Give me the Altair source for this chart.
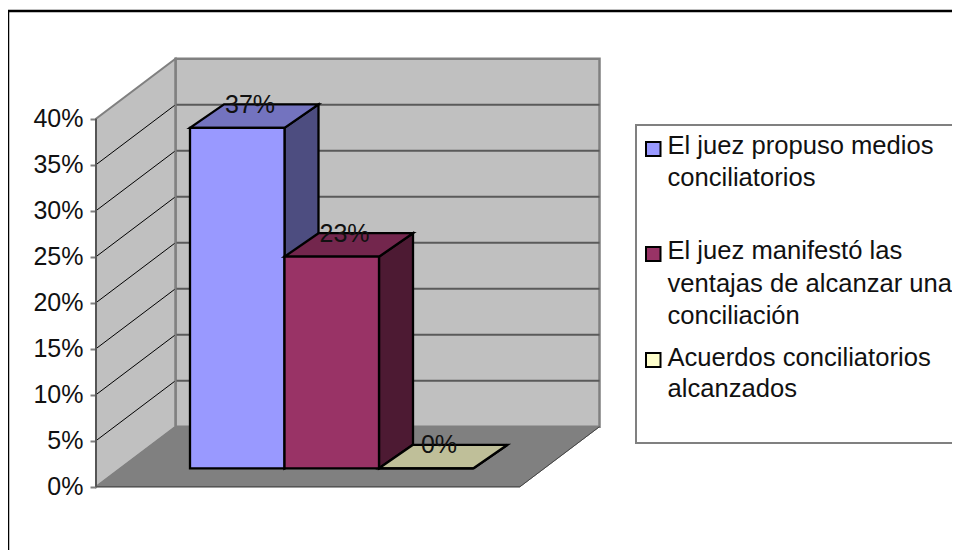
import altair as alt
import pandas as pd

# ---- chart values ----
categories = ["El juez propuso medios conciliatorios",
              "El juez manifestó las ventajas de alcanzar una conciliación",
              "Acuerdos conciliatorios alcanzados"]
values = [0.37, 0.23, 0.0]
tick_values = [0, 0.05, 0.10, 0.15, 0.20, 0.25, 0.30, 0.35, 0.40]
legend_lines = [["El juez propuso medios", "conciliatorios"],
                ["El juez manifestó las", "ventajas de alcanzar una", "conciliación"],
                ["Acuerdos conciliatorios", "alcanzados"]]

# ---- styles ----
front_colors = ["#9999FF", "#993366", "#FFFFCC"]
top_colors = ["#7373BF", "#73264D", "#BFBF99"]
side_colors = ["#4D4D80", "#4D1A33", "#808066"]
FONT = "Liberation Sans"
TXT = "#111111"

# ---- layout (x in page pixels, y in value units of the scale) ----
OX, OY = 12, 8
W, H = 940, 542
PX_PER_UNIT = 920.0
ZERO_PAGE = 486.7
WALL_L, WALL_R = 96.0, 520.0
DEPTH_X, DEPTH_Y = 79.5, 60.0 / PX_PER_UNIT
BAR_X0, BAR_W = 190.0, 94.5
BAR_BASE = 18.4 / PX_PER_UNIT
BAR_DX, BAR_DY = 34.0, 23.5 / PX_PER_UNIT
TOP = max(tick_values)

xs = alt.Scale(domain=[OX, OX + W], range=[0, W], nice=False, zero=False)
ys = alt.Scale(domain=[(ZERO_PAGE - (OY + H)) / PX_PER_UNIT, (ZERO_PAGE - OY) / PX_PER_UNIT],
               range=[H, 0], nice=False, zero=False)
X = lambda f="x": alt.X(f"{f}:Q", scale=xs, axis=None)
Y = lambda f="y": alt.Y(f"{f}:Q", scale=ys, title=None)
X2 = lambda: alt.X2("x2:Q")
Y2 = lambda: alt.Y2("y2:Q")


def vx(page):
    return alt.value(page - OX)


def vy(page):
    return alt.value(page - OY)


layers = []

# y axis
axis_df = pd.DataFrame({"y": tick_values})
layers.append(alt.Chart(axis_df).mark_point(opacity=0)
              .encode(y=alt.Y("y:Q", scale=ys,
                              axis=alt.Axis(values=tick_values, format=".0%", title=None, grid=False,
                                            domain=False, offset=-(WALL_L - OX), tickSize=6,
                                            tickColor="#808080", tickWidth=2, labelPadding=7,
                                            labelFont=FONT, labelFontSize=25, labelColor=TXT))))

# back wall
back = pd.DataFrame({"x": [WALL_L + DEPTH_X], "x2": [WALL_R + DEPTH_X],
                     "y": [DEPTH_Y], "y2": [TOP + DEPTH_Y]})
layers.append(alt.Chart(back).mark_rect(fill="#C0C0C0", stroke="#808080", strokeWidth=2.5)
              .encode(x=X(), x2=X2(), y=Y(), y2=Y2()))

# side wall
side_wall = pd.DataFrame({"x": [WALL_L, WALL_L + DEPTH_X], "y": [0, DEPTH_Y],
                          "y2": [TOP, TOP + DEPTH_Y]})
layers.append(alt.Chart(side_wall).mark_area(fill="#C0C0C0", stroke="#808080", strokeWidth=2)
              .encode(x=X(), y=Y(), y2=Y2()))

# floor
floor = pd.DataFrame({"y": [0, DEPTH_Y], "x": [WALL_L, WALL_L + DEPTH_X],
                      "x2": [WALL_R, WALL_R + DEPTH_X]})
layers.append(alt.Chart(floor).mark_area(orient="horizontal", fill="#808080", stroke="#808080",
                                         strokeWidth=1)
              .encode(y=Y(), x=X(), x2=X2()))

# gridlines on the back wall and on the side wall
grid_back = pd.DataFrame({"x": [WALL_L + DEPTH_X] * 7, "x2": [WALL_R + DEPTH_X] * 7,
                          "y": [t + DEPTH_Y for t in tick_values[1:-1]]})
layers.append(alt.Chart(grid_back)
              .mark_rule(color="#5A5A5A", strokeWidth=2)
              .encode(x=X(), x2=X2(), y=Y()))
diag_rows = []
for t in tick_values[1:-1]:
    diag_rows.append({"x": WALL_L, "y": t, "g": t})
    diag_rows.append({"x": WALL_L + DEPTH_X, "y": t + DEPTH_Y, "g": t})
layers.append(alt.Chart(pd.DataFrame(diag_rows)).mark_line(color="#000000", strokeWidth=1)
              .encode(x=X(), y=Y(), detail="g:N"))

# wall / floor edges
layers.append(alt.Chart(pd.DataFrame({"x": [WALL_L + DEPTH_X], "y": [DEPTH_Y], "y2": [TOP + DEPTH_Y]}))
              .mark_rule(color="#808080", strokeWidth=2).encode(x=X(), y=Y(), y2=Y2()))
layers.append(alt.Chart(pd.DataFrame({"x": [WALL_L], "y": [0], "y2": [TOP]}))
              .mark_rule(color="#555555", strokeWidth=2).encode(x=X(), y=Y(), y2=Y2()))
layers.append(alt.Chart(pd.DataFrame({"x": [WALL_L], "x2": [WALL_R], "y": [0]}))
              .mark_rule(color="#555555", strokeWidth=1.5).encode(x=X(), x2=X2(), y=Y()))
layers.append(alt.Chart(pd.DataFrame({"x": [WALL_R], "x2": [WALL_R + DEPTH_X],
                                      "y": [0], "y2": [DEPTH_Y]}))
              .mark_rule(color="#444444", strokeWidth=1).encode(x=X(), x2=X2(), y=Y(), y2=Y2()))

# 3-D bars
for i, v in enumerate(values):
    l, r = BAR_X0 + i * BAR_W, BAR_X0 + (i + 1) * BAR_W
    b, t = BAR_BASE, BAR_BASE + v
    side = pd.DataFrame({"x": [r, r + BAR_DX], "y": [b, b + BAR_DY], "y2": [t, t + BAR_DY]})
    layers.append(alt.Chart(side).mark_area(fill=side_colors[i], stroke="#000000", strokeWidth=2.3)
                  .encode(x=X(), y=Y(), y2=Y2()))
    top = pd.DataFrame({"y": [t, t + BAR_DY], "x": [l, l + BAR_DX], "x2": [r, r + BAR_DX]})
    layers.append(alt.Chart(top).mark_area(orient="horizontal", fill=top_colors[i],
                                           stroke="#000000", strokeWidth=2.3)
                  .encode(y=Y(), x=X(), x2=X2()))
    front = pd.DataFrame({"x": [l], "x2": [r], "y": [b], "y2": [t]})
    layers.append(alt.Chart(front).mark_rect(fill=front_colors[i], stroke="#000000", strokeWidth=2.3)
                  .encode(x=X(), x2=X2(), y=Y(), y2=Y2()))

# data labels
labels = pd.DataFrame({"x": [BAR_X0 + i * BAR_W + 60 for i in range(3)],
                       "y": [BAR_BASE + v + BAR_DY for v in values],
                       "t": values})
layers.append(alt.Chart(labels)
              .mark_text(font=FONT, fontSize=25, color=TXT, baseline="middle", dy=0.5)
              .encode(x=X(), y=Y(), text=alt.Text("t:Q", format=".0%")))

# outer frame (the chart area runs past the right and bottom of the picture)
layers.append(alt.Chart(pd.DataFrame({"a": [0]})).mark_rule(color="#000000", strokeWidth=2.5)
              .encode(x=vx(8), x2=vx(980), y=vy(11)))
layers.append(alt.Chart(pd.DataFrame({"a": [0]})).mark_rule(color="#000000", strokeWidth=2.5)
              .encode(x=vx(8), y=vy(11), y2=vy(580)))

# legend
layers.append(alt.Chart(pd.DataFrame({"a": [0]})).mark_rect(fill="#FFFFFF", stroke="#808080", strokeWidth=2)
              .encode(x=vx(636), x2=vx(990), y=vy(125), y2=vy(443)))
swatch_top = [142, 247, 353]
line_base = [[153.5, 186], [259, 291.7, 324], [365.7, 397]]
for i in range(3):
    layers.append(alt.Chart(pd.DataFrame({"a": [0]}))
                  .mark_rect(fill=front_colors[i], stroke="#000000", strokeWidth=2)
                  .encode(x=vx(646), x2=vx(660.5), y=vy(swatch_top[i]), y2=vy(swatch_top[i] + 14)))
    for line, base in zip(legend_lines[i], line_base[i]):
        layers.append(alt.Chart(pd.DataFrame({"a": [0]}))
                      .mark_text(font=FONT, fontSize=25.6, color=TXT, align="left", baseline="alphabetic")
                      .encode(x=vx(667.5), y=vy(base), text=alt.value(line)))

chart = (alt.layer(*layers)
         .properties(width=W, height=H, padding={"left": OX - 8, "top": 0, "right": 0, "bottom": 0},
                     autosize=alt.AutoSizeParams(type="none"), background="#FFFFFF")
         .configure_view(stroke=None))

chart.save("out.html", embed_options={"renderer": "svg", "actions": False})
